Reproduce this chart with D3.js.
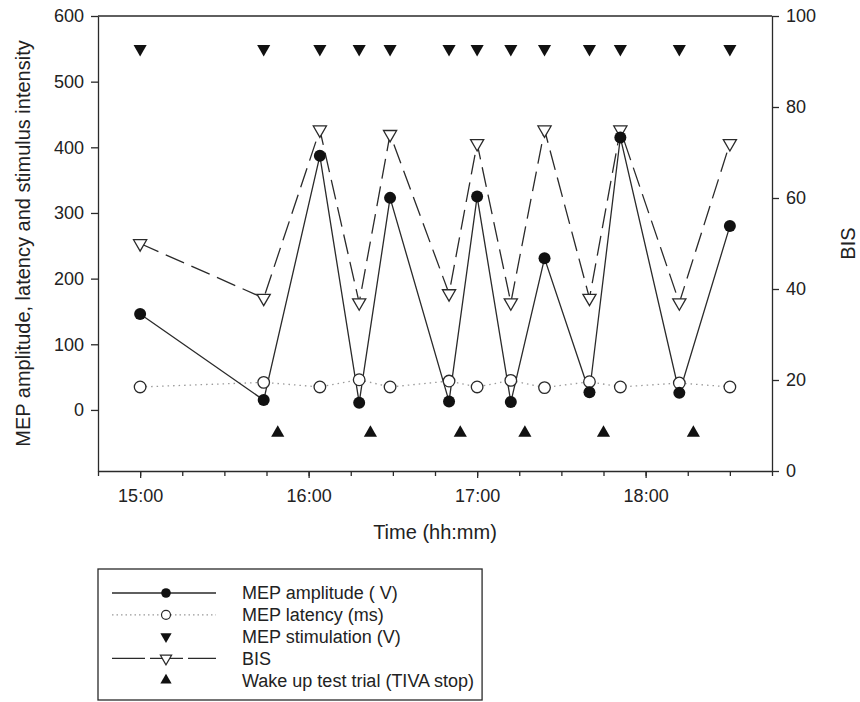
<!DOCTYPE html>
<html>
<head>
<meta charset="utf-8">
<script src="https://cdn.jsdelivr.net/npm/d3@7"></script>
<style>
  body { margin: 0; background: #fff; }
  text { font-family: Arial, "Liberation Sans", sans-serif; fill: #222; }
</style>
</head>
<body>
<div id="chart"></div>
<script>
// Sample times (hh:mm)
var times = ["15:00", "15:44", "16:04", "16:18", "16:29", "16:50", "17:00",
             "17:12", "17:24", "17:40", "17:51", "18:12", "18:30"];

// MEP amplitude, latency and stimulation (left axis)
var amplitude = [146, 15, 387, 11, 323, 13, 325, 12, 231, 27, 415, 26, 280];
var latency = [35, 42, 35, 46, 35, 44, 35, 45, 34, 43, 35, 41, 35];
var stimulation = [550, 550, 550, 550, 550, 550, 550, 550, 550, 550, 550, 550, 550];

// BIS (right axis)
var bis = [50, 38, 75, 37, 74, 39, 72, 37, 75, 38, 75, 37, 72];

// Wake up test trials
var wakeTimes = ["15:49", "16:22", "16:54", "17:17", "17:45", "18:17"];
var wakeLevel = [-35, -35, -35, -35, -35, -35];

// Tick labels
var xTickLabels = ["15:00", "16:00", "17:00", "18:00"];
var yLeftTicks = [0, 100, 200, 300, 400, 500, 600];
var yRightTicks = [0, 20, 40, 60, 80, 100];

// Legend labels
var legendLabels = ["MEP amplitude ( V)", "MEP latency (ms)", "MEP stimulation (V)",
                    "BIS", "Wake up test trial (TIVA stop)"];

// Plot size
var width = 860;
var height = 702;
var plotLeft = 98;
var plotRight = 772;
var plotTop = 16;
var plotBottom = 471;
var ink = "#2a2a2a";

var svg = d3
  .select("#chart")
  .append("svg")
  .attr("width", width)
  .attr("height", height);

var parseTime = d3.timeParse("%H:%M");
var formatTime = d3.timeFormat("%H:%M");

// Scales
var xScale = d3
  .scaleTime()
  .domain([parseTime("14:45"), parseTime("18:45")])
  .range([plotLeft, plotRight]);

var yLeft = d3
  .scaleLinear()
  .domain([-93, 600])
  .range([plotBottom, plotTop]);

var yRight = d3
  .scaleLinear()
  .domain([0, 100])
  .range([plotBottom, plotTop]);

// Build rows
var rows = times.map(function(t, i) {
  return { t: parseTime(t), amp: amplitude[i], lat: latency[i], stim: stimulation[i], bis: bis[i] };
});
var wakeRows = wakeTimes.map(function(t, i) {
  return { t: parseTime(t), v: wakeLevel[i] };
});

function styleAxis(g) {
  g.attr("font-size", 18).attr("font-family", "Arial, 'Liberation Sans', sans-serif");
  g.selectAll("path, line").attr("stroke", ink).attr("stroke-width", 1.3);
  g.selectAll("text").attr("fill", "#222");
}

// Top frame line
svg.append("line")
  .attr("x1", plotLeft).attr("x2", plotRight)
  .attr("y1", plotTop).attr("y2", plotTop)
  .attr("stroke", ink).attr("stroke-width", 1.3);

// X axis minor ticks (15 min)
svg.append("g")
  .attr("transform", "translate(0," + plotBottom + ")")
  .call(d3.axisBottom(xScale).ticks(d3.timeMinute.every(15)).tickSize(5).tickSizeOuter(0).tickFormat(""))
  .call(styleAxis);

// X axis major ticks
svg.append("g")
  .attr("transform", "translate(0," + plotBottom + ")")
  .call(d3.axisBottom(xScale)
    .tickValues(xTickLabels.map(parseTime))
    .tickSize(7).tickSizeOuter(0).tickPadding(11)
    .tickFormat(formatTime))
  .call(styleAxis)
  .call(function(g) { g.select(".domain").remove(); });

// Left axis
svg.append("g")
  .attr("transform", "translate(" + plotLeft + ",0)")
  .call(d3.axisLeft(yLeft).tickValues(yLeftTicks).tickSize(7).tickSizeOuter(0).tickPadding(7))
  .call(styleAxis);

// Right axis
svg.append("g")
  .attr("transform", "translate(" + plotRight + ",0)")
  .call(d3.axisRight(yRight).tickValues(yRightTicks).tickSize(7).tickSizeOuter(0).tickPadding(7))
  .call(styleAxis);

// Axis titles
svg.append("text")
  .attr("x", (plotLeft + plotRight) / 2)
  .attr("y", 539)
  .attr("text-anchor", "middle")
  .attr("font-size", 20)
  .text("Time (hh:mm)");

svg.append("text")
  .attr("transform", "translate(30," + ((plotTop + plotBottom) / 2) + ") rotate(-90)")
  .attr("text-anchor", "middle")
  .attr("font-size", 20)
  .text("MEP amplitude, latency and stimulus intensity");

svg.append("text")
  .attr("transform", "translate(855," + ((plotTop + plotBottom) / 2) + ") rotate(-90)")
  .attr("text-anchor", "middle")
  .attr("font-size", 20)
  .text("BIS");

// Lines
var latLine = d3.line().x(function(d) { return xScale(d.t); }).y(function(d) { return yLeft(d.lat); });
var ampLine = d3.line().x(function(d) { return xScale(d.t); }).y(function(d) { return yLeft(d.amp); });
var bisLine = d3.line().x(function(d) { return xScale(d.t); }).y(function(d) { return yRight(d.bis); });

svg.append("path").datum(rows).attr("d", latLine)
  .attr("fill", "none").attr("stroke", "#9a9a9a").attr("stroke-width", 1.3)
  .attr("stroke-dasharray", "1.5,4");

svg.append("path").datum(rows).attr("d", bisLine)
  .attr("fill", "none").attr("stroke", ink).attr("stroke-width", 1.3)
  .attr("stroke-dasharray", "20,8");

svg.append("path").datum(rows).attr("d", ampLine)
  .attr("fill", "none").attr("stroke", ink).attr("stroke-width", 1.3);

// Symbols
var triUp = d3.symbol().type(d3.symbolTriangle).size(75);
var triUpSmall = d3.symbol().type(d3.symbolTriangle).size(55);

// Latency markers
svg.selectAll(".lat").data(rows).enter()
  .append("circle")
  .attr("cx", function(d) { return xScale(d.t); })
  .attr("cy", function(d) { return yLeft(d.lat); })
  .attr("r", 5.8)
  .attr("fill", "#fff").attr("stroke", ink).attr("stroke-width", 1.3);

// BIS markers
svg.selectAll(".bis").data(rows).enter()
  .append("path")
  .attr("d", triUp)
  .attr("transform", function(d) { return "translate(" + xScale(d.t) + "," + yRight(d.bis) + ") rotate(180)"; })
  .attr("fill", "#fff").attr("stroke", ink).attr("stroke-width", 1.3);

// Amplitude markers
svg.selectAll(".amp").data(rows).enter()
  .append("circle")
  .attr("cx", function(d) { return xScale(d.t); })
  .attr("cy", function(d) { return yLeft(d.amp); })
  .attr("r", 6)
  .attr("fill", "#111");

// Stimulation markers
svg.selectAll(".stim").data(rows).enter()
  .append("path")
  .attr("d", triUp)
  .attr("transform", function(d) { return "translate(" + xScale(d.t) + "," + yLeft(d.stim) + ") rotate(180)"; })
  .attr("fill", "#111");

// Wake up test markers
svg.selectAll(".wake").data(wakeRows).enter()
  .append("path")
  .attr("d", triUp)
  .attr("transform", function(d) { return "translate(" + xScale(d.t) + "," + yLeft(d.v) + ")"; })
  .attr("fill", "#111");

// Legend
var legend = svg.append("g");
var legendBox = legend.append("rect")
  .attr("x", 98).attr("y", 569)
  .attr("height", 131)
  .attr("fill", "#fff").attr("stroke", ink).attr("stroke-width", 1.3);

var rowY = function(i) { return 593 + i * 21.8; };
var lx1 = 112, lx2 = 216, lmid = 166, textX = 242;

// Row 0: amplitude
legend.append("line").attr("x1", lx1).attr("x2", lx2).attr("y1", rowY(0)).attr("y2", rowY(0))
  .attr("stroke", ink).attr("stroke-width", 1.3);
legend.append("circle").attr("cx", lmid).attr("cy", rowY(0)).attr("r", 4.8).attr("fill", "#111");

// Row 1: latency
legend.append("line").attr("x1", lx1).attr("x2", lx2).attr("y1", rowY(1)).attr("y2", rowY(1))
  .attr("stroke", "#9a9a9a").attr("stroke-width", 1.2).attr("stroke-dasharray", "1.5,3");
legend.append("circle").attr("cx", lmid).attr("cy", rowY(1)).attr("r", 4.5)
  .attr("fill", "#fff").attr("stroke", ink).attr("stroke-width", 1.2);

// Row 2: stimulation
legend.append("path").attr("d", triUpSmall)
  .attr("transform", "translate(" + lmid + "," + rowY(2) + ") rotate(180)").attr("fill", "#111");

// Row 3: BIS
legend.append("line").attr("x1", lx1).attr("x2", lx2).attr("y1", rowY(3)).attr("y2", rowY(3))
  .attr("stroke", ink).attr("stroke-width", 1.3).attr("stroke-dasharray", "33,5");
legend.append("path").attr("d", triUpSmall)
  .attr("transform", "translate(" + lmid + "," + rowY(3) + ") rotate(180)")
  .attr("fill", "#fff").attr("stroke", ink).attr("stroke-width", 1.2);

// Row 4: wake up
legend.append("path").attr("d", triUpSmall)
  .attr("transform", "translate(" + lmid + "," + rowY(4) + ")").attr("fill", "#111");

var labels = legend.selectAll(".lbl").data(legendLabels).enter()
  .append("text")
  .attr("x", textX)
  .attr("y", function(d, i) { return rowY(i); })
  .attr("dy", "0.36em")
  .attr("font-size", 18)
  .text(function(d) { return d; });

var maxLen = d3.max(labels.nodes(), function(n) { return n.getComputedTextLength(); });
legendBox.attr("width", textX + maxLen + 8 - 98);
</script>
</body>
</html>
